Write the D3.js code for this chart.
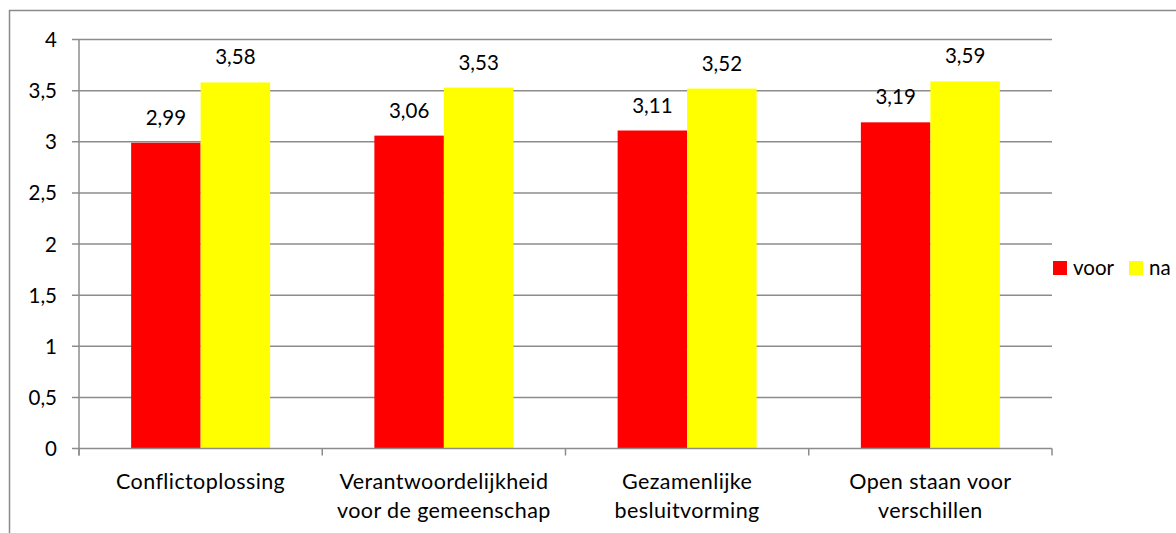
<!DOCTYPE html>
<html><head><meta charset="utf-8">
<script src="https://cdn.jsdelivr.net/npm/d3@7"></script>
<style>body{margin:0;background:#fff;} text{font-family:Lato,"Open Sans",sans-serif;fill:#000;}</style>
</head><body><svg id="c" width="1176" height="533"></svg>
<script>
const categories = [["Conflictoplossing"],["Verantwoordelijkheid","voor de gemeenschap"],["Gezamenlijke","besluitvorming"],["Open staan voor","verschillen"]];
const seriesNames = ["voor","na"];
const voor = [2.99,3.06,3.11,3.19];
const na = [3.58,3.53,3.52,3.59];
const yTicks = [0,0.5,1,1.5,2,2.5,3,3.5,4];
const colors = ["#ff0000","#ffff00"];
const FS = 20.5;

const svg = d3.select("#c");
svg.append("rect").attr("x",9.5).attr("y",10.5).attr("width",1200).attr("height",600)
  .attr("fill","none").attr("stroke","#8a8a8a").attr("stroke-width",1.5);

const pLeft=79, pRight=1052, pTop=39.5, pBottom=448.5;
const y = d3.scaleLinear().domain([0,4]).range([pBottom,pTop]);
const x0 = d3.scaleBand().domain(d3.range(categories.length)).range([pLeft,pRight]).paddingInner(0).paddingOuter(0);
const x1 = d3.scaleBand().domain(seriesNames).range([0,x0.bandwidth()]).paddingInner(0).paddingOuter(0.75);
const fmt = v => String(v).replace(".",",");

svg.append("g").selectAll("line").data(yTicks.filter(t=>t>0)).join("line")
  .attr("x1",pLeft-7).attr("x2",pRight).attr("y1",d=>y(d)).attr("y2",d=>y(d))
  .attr("stroke","#8c8c8c").attr("stroke-width",1.5);

const data = categories.map((c,i)=>({i, vals:[voor[i],na[i]]}));
const g = svg.append("g");
data.forEach(d=>{
  d.vals.forEach((v,j)=>{
    const bx = x0(d.i)+x1(seriesNames[j]);
    g.append("rect").attr("x",bx).attr("width",x1.bandwidth())
      .attr("y",y(v)).attr("height",y(0)-y(v)).attr("fill",colors[j]);
    g.append("text").attr("x",bx+x1.bandwidth()/2).attr("y",y(v)-18)
      .attr("text-anchor","middle").attr("font-size",FS).text(fmt(v));
  });
});

svg.append("line").attr("x1",pLeft).attr("x2",pLeft).attr("y1",pTop).attr("y2",pBottom+7)
  .attr("stroke","#8c8c8c").attr("stroke-width",1.5);
svg.append("line").attr("x1",pLeft-7).attr("x2",pRight).attr("y1",pBottom).attr("y2",pBottom)
  .attr("stroke","#8c8c8c").attr("stroke-width",1.5);
svg.append("g").selectAll("line").data(d3.range(categories.length+1)).join("line")
  .attr("x1",d=>pLeft+d*x0.step()).attr("x2",d=>pLeft+d*x0.step())
  .attr("y1",pBottom).attr("y2",pBottom+7).attr("stroke","#8c8c8c").attr("stroke-width",1.5);

svg.append("g").selectAll("text").data(yTicks).join("text")
  .attr("x",57).attr("y",d=>y(d)+7.5).attr("text-anchor","end").attr("font-size",FS).text(fmt);

categories.forEach((c,i)=>{
  const cx = x0(i)+x0.bandwidth()/2;
  const t = svg.append("text").attr("text-anchor","middle").attr("font-size",21.5)
    .attr("letter-spacing",0.4).attr("x",cx);
  c.forEach((line,k)=>{
    t.append("tspan").attr("x",cx).attr("y",489+k*28.5).text(line);
  });
});

const lg = svg.append("g");
const lx=[1053,1129];
seriesNames.forEach((s,j)=>{
  lg.append("rect").attr("x",lx[j]).attr("y",261).attr("width",14).attr("height",14).attr("fill",colors[j]);
  lg.append("text").attr("x",lx[j]+20).attr("y",275).attr("font-size",FS).text(s);
});
</script></body></html>
